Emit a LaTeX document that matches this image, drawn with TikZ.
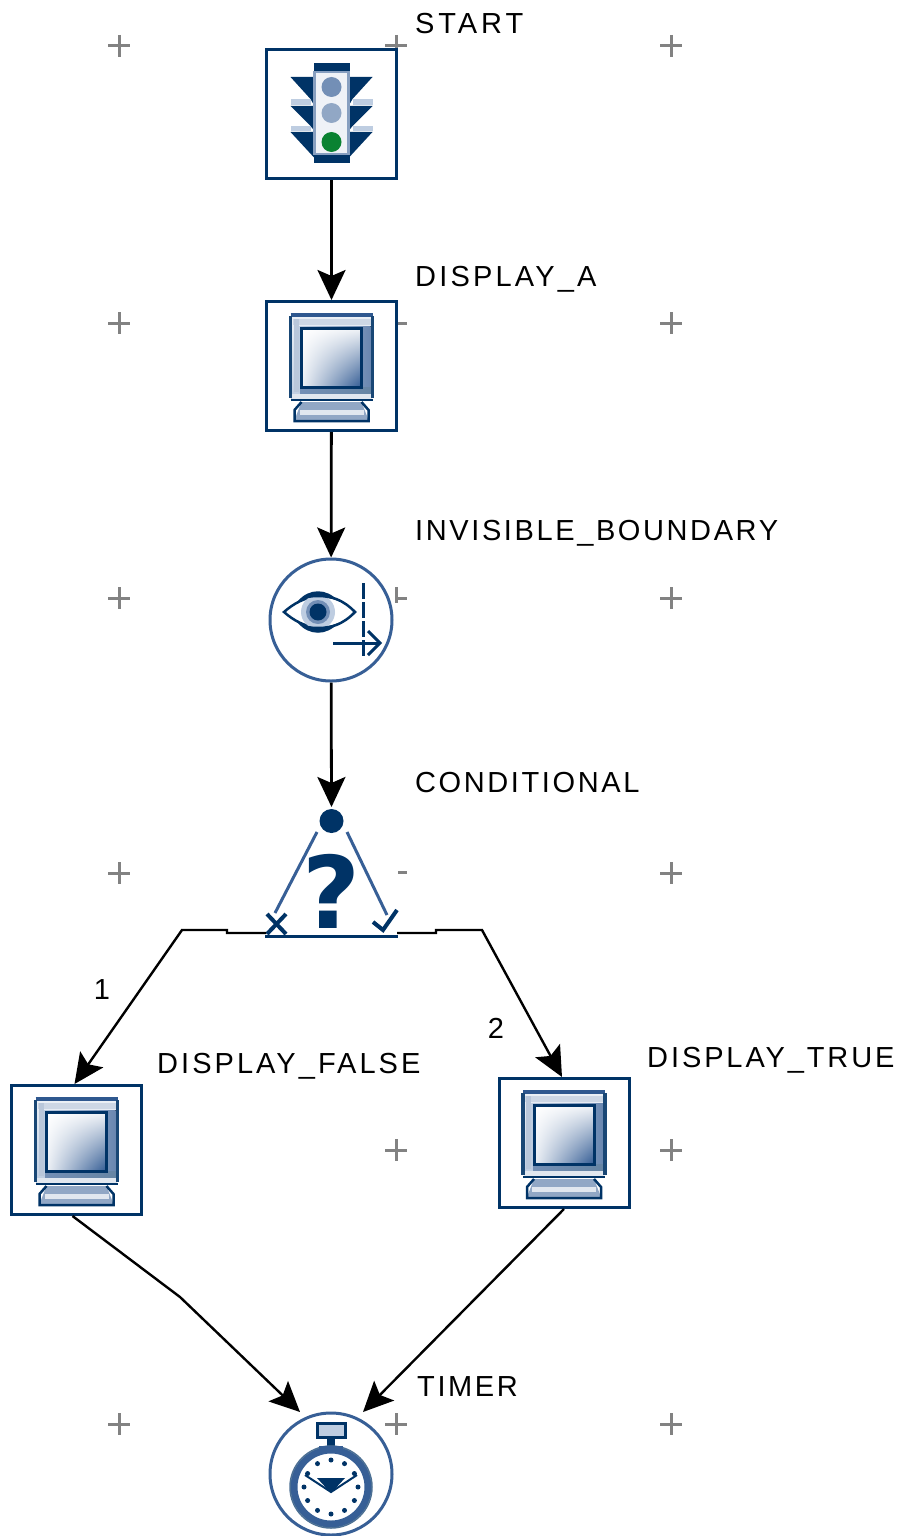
\documentclass[tikz,border=0pt]{standalone}
\usepackage{fontspec}
\setmainfont{Liberation Sans}
\usetikzlibrary{arrows.meta,shapes.geometric,shadings}
\definecolor{navy}{RGB}{0,51,102}
\definecolor{midblue}{RGB}{55,95,150}
\definecolor{paleblue}{RGB}{190,205,225}
\definecolor{grn}{RGB}{10,130,50}
\definecolor{crossgrey}{RGB}{130,130,130}
\newfontfamily\lblface{Liberation Sans}
\newfontfamily\qface{DejaVu Sans}
\newcommand{\lblfont}{\lblface\fontsize{29}{29}\selectfont}
\newcommand{\trk}[2]{\addfontfeature{LetterSpace=#1}#2}
\newcommand{\gridmark}[2]{\draw[gridline] (#1-11,#2)--(#1+11,#2) (#1,#2-11)--(#1,#2+11);}
\newcommand{\monitor}[2]{%
 \begin{scope}[shift={(#1,#2)}]
  \fill[top color=white!70!paleblue,bottom color=paleblue] (-40,-50) rectangle (40,33);
  \fill[left color=paleblue,right color=midblue!75] (-33,-40) rectangle (39,26);
  \fill[white!75!midblue] (-39,-47) rectangle (39,-41);
  \fill[white!65!midblue] (-38,-47) rectangle (-33,26);
  \fill[left color=midblue!70,right color=navy!60] (-31,21) rectangle (40,28);
  \fill[white!85!midblue] (-40,28) rectangle (40,33);
  \draw[midblue!85!navy,line width=4pt] (-41,-51) -- (41,-51);
  \draw[navy!90,line width=3.5pt] (-41,-50) -- (-41,32) (41,-50) -- (41,32);
  \shade[upper left=white,upper right=white!92!midblue,lower left=white!90!midblue,lower right=midblue] (-29,-37) rectangle (29,20);
  \draw[navy,line width=3pt] (-30,-38) rectangle (30,21);
  \draw[navy,line width=2.5pt] (-41,34) -- (41,34);
  \fill[midblue!55] (-30,36) -- (30,36) -- (37,54) -- (-37,54) -- cycle;
  \fill[white!85!midblue] (-32,44) rectangle (32,49);
  \draw[navy,line width=2.5pt] (-30,36) -- (-37,44) -- (-37,55) -- (37,55) -- (37,44) -- (30,36);
 \end{scope}}
\tikzset{
 x=1pt,y=-1pt,
 gridline/.style={crossgrey,line width=3pt},
 stepbox/.style={draw=navy,line width=3pt,fill=white,minimum width=130pt,minimum height=129pt,inner sep=0pt},
 roundbox/.style={circle,draw=midblue,line width=3pt,fill=white,minimum size=122pt,inner sep=0pt},
 lbl/.style={anchor=base west,inner sep=0pt,font=\lblfont},
 num/.style={inner sep=0pt,font=\lblfont},
 flow/.style={black,line width=2.8pt,-{Stealth[length=30pt,width=28pt,inset=6pt]}},
 thinflow/.style={black,line width=2.4pt,-{Stealth[length=30pt,width=28pt,inset=6pt]}}
}
\begin{document}
\begin{tikzpicture}
\useasboundingbox (0,0) rectangle (903,1536);
\fill[white] (0,0) rectangle (903,1536);
% grid marks
\foreach \gy in {46,323,598,873,1424}{\gridmark{119}{\gy}\gridmark{671}{\gy}}
\gridmark{396}{46}\gridmark{396}{1150}\gridmark{671}{1150}\gridmark{396}{1424}
\draw[gridline] (398,323) -- (407,323);
\draw[gridline] (396,587) -- (396,603) (396,598) -- (407,598);
\draw[gridline] (398,872) -- (407,872);
% nodes
\node[stepbox] (start) at (331.5,114) {};
\node[stepbox] (dispA) at (331.5,366) {};
\node[roundbox] (invis) at (331,620) {};
\node[stepbox] (dispF) at (76.5,1150) {};
\node[stepbox] (dispT) at (564,1143) {};
\node[roundbox] (timer) at (331,1474) {};
\coordinate (condtop) at (331.5,807);
\coordinate (condL) at (266,933);
\coordinate (condR) at (397,933);
\coordinate (bendLa) at (227,933);
\coordinate (bendLb) at (227,930);
\coordinate (bendLc) at (182,930);
\coordinate (bendRa) at (436,933);
\coordinate (bendRb) at (436,930);
\coordinate (bendRc) at (482,930);
\coordinate (timerL) at (300,1412);
\coordinate (timerR) at (363,1412);
\coordinate (bendF) at (180,1297);
% traffic light
\begin{scope}[shift={(331.5,114)}]
 \foreach \s in {-1,1}{
  \fill[navy] (\s*41,-37) -- (\s*17,-37) -- (\s*17,-8) -- (\s*21,-15) -- cycle;
  \fill[paleblue] (\s*41,-15) rectangle (\s*21,-9);
  \fill[navy] (\s*41,-8) -- (\s*17,-8) -- (\s*17,17) -- (\s*21,12) -- cycle;
  \fill[paleblue] (\s*41,12) rectangle (\s*21,17);
  \fill[navy] (\s*41,18) -- (\s*17,18) -- (\s*17,44) -- cycle;
 }
 \fill[navy] (-18,-51) rectangle (18,-43);
 \fill[navy] (-18,41) rectangle (18,49);
 \draw[fill=white!92!midblue,draw=midblue!60,line width=2.5pt] (-17,-42) rectangle (17,40);
 \fill[midblue!70] (0,-27) circle (10pt);
 \fill[midblue!55] (0,-1) circle (10pt);
 \fill[grn] (0,28) circle (10pt);
\end{scope}
\monitor{331.5}{366}
\monitor{76.5}{1150}
\monitor{564}{1143}
% eye
\begin{scope}[shift={(331,620)}]
 \draw[navy,line width=2.5pt] (-47,-8) .. controls (-28,-25) and (0,-33) .. (24,-8) .. controls (0,17) and (-28,9) .. (-47,-8) -- cycle;
 \fill[paleblue] (-13,-8) circle (17pt);
 \fill[midblue!70] (-13,-8) circle (12pt);
 \fill[navy] (-33,-19) .. controls (-22,-32) and (-4,-32) .. (7,-19) .. controls (-4,-24) and (-22,-24) .. (-33,-19) -- cycle;
 \fill[navy] (-33,3) .. controls (-22,16) and (-4,16) .. (7,3) .. controls (-4,8) and (-22,8) .. (-33,3) -- cycle;
 \fill[navy] (-13,-8) circle (8.5pt);
 \draw[navy,line width=3pt,dash pattern=on 16pt off 3pt] (32,-37) -- (32,38);
 \draw[navy,line width=3pt] (2,23) -- (48,23);
 \draw[navy,line width=3pt] (37,11) -- (49,23) -- (37,35);
\end{scope}
% conditional
\fill[navy] (331.5,821) circle (12pt);
\draw[midblue,line width=3pt] (317,832) -- (275,913);
\draw[midblue,line width=3pt] (347,832) -- (387,915);
\draw[navy,line width=3pt] (265,936) -- (398,936);
\draw[navy,line width=4pt] (267,914) -- (286,934) (286,914) -- (267,934);
\draw[navy,line width=4pt] (373,922) -- (383,930) -- (397,910);
\node[inner sep=0pt,font=\qface\fontsize{100}{100}\bfseries\selectfont,text=navy] (qmark) at (331,891) {?};
% timer
\begin{scope}[shift={(331,1474)}]
 \draw[navy,line width=3pt,fill=paleblue] (-14,-51) rectangle (14,-37);
 \fill[navy] (-4,-36) rectangle (4,-26);
 \draw[midblue,line width=7pt,fill=white] (0,13) circle (37pt);
 \draw[navy!70,line width=1.5pt] (0,13) circle (41pt);
 \fill[midblue] (-12,-28) rectangle (12,-21);
 \fill[navy] (-14,4) -- (14,4) -- (0,19) -- cycle;
 \draw[navy,line width=2pt] (-26,1) -- (0,18) -- (26,1);
 \foreach \a in {0,30,...,330}{\fill[navy] (0,13) ++(\a:27pt) circle (2.5pt);}
\end{scope}
% connectors
\draw[flow] (start) -- (dispA);
\draw[flow] (dispA) -- (invis);
\draw[flow] (invis) -- (condtop);
\draw[thinflow] (condL) -- (bendLa) -- (bendLb) -- (bendLc) -- ([xshift=-2pt]dispF.north);
\draw[thinflow] (condR) -- (bendRa) -- (bendRb) -- (bendRc) -- ([xshift=-2pt]dispT.north);
\draw[thinflow] ([xshift=-4pt]dispF.south) -- (bendF) -- (timerL);
\draw[thinflow] (dispT.south) -- (timerR);
% labels
\node[lbl] (lstart) at (415,34) {\trk{13.5}{START}};
\node[lbl] (ldispa) at (415,286) {\trk{11}{DISPLAY\_A}};
\node[lbl] (linvis) at (415,540) {\trk{9}{INVISIBLE\_BOUNDARY}};
\node[lbl] (lcond) at (415,792) {\trk{9}{CONDITIONAL}};
\node[lbl] (lfalse) at (157,1073) {\trk{10.5}{DISPLAY\_FALSE}};
\node[lbl] (ltrue) at (647,1067) {\trk{10}{DISPLAY\_TRUE}};
\node[lbl] (ltimer) at (417,1396) {\trk{9}{TIMER}};
\node[num] (n1) at (102,990) {1};
\node[num] (n2) at (496,1028) {2};
\end{tikzpicture}
\end{document}
